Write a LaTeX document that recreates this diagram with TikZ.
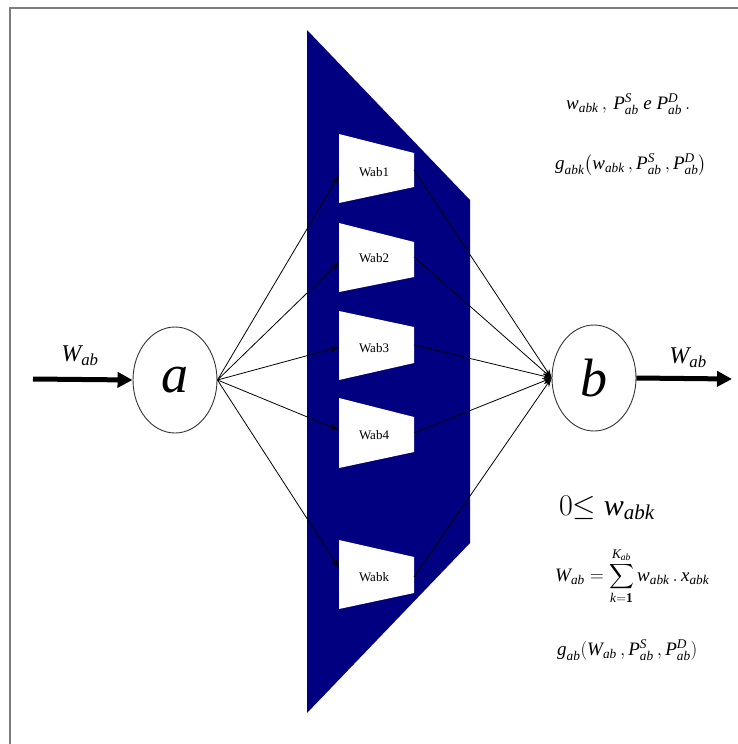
\RequirePackage{fix-cm}
\documentclass[tikz,border=0pt]{standalone}
\usepackage{amsmath}
\usepackage{fontspec}
\setmainfont{Liberation Serif}
\usetikzlibrary{shapes.geometric,arrows.meta}
\definecolor{navyblue}{RGB}{0,0,128}
\definecolor{framegray}{RGB}{125,125,125}
\newcommand{\myit}[1]{\textit{#1}}
\tikzset{
  circ/.style={ellipse, draw=black!80, line width=0.9pt, minimum width=84pt, minimum height=106pt, inner sep=0pt, font=\fontsize{54}{58}\selectfont\itshape},
  boxlabel/.style={font=\fontsize{13}{15}\selectfont, inner sep=0pt},
  thin arrow/.style={line width=0.8pt, -{Stealth[length=9pt,width=6pt]}},
  fat arrow/.style={line width=5pt, -{Triangle[length=15pt,width=15pt]}},
  formula/.style={inner sep=0pt, anchor=west},
}
\begin{document}
\begin{tikzpicture}[x=1pt,y=-1pt]
\useasboundingbox (0,0) rectangle (738,744);
% frame
\draw[framegray, line width=2pt] (10,744) -- (10,8) -- (738,8);
% blue band
\fill[navyblue] (307,30) -- (470,200) -- (470,543) -- (307,713) -- cycle;
% boxes
\fill[white] (339,134) -- (414,153) -- (414,187) -- (339,203) -- cycle;
\fill[white] (339,223) -- (414,242) -- (414,277) -- (339,292) -- cycle;
\fill[white] (339,311) -- (414,327) -- (414,363) -- (339,380) -- cycle;
\fill[white] (339,398) -- (414,417) -- (414,452) -- (339,468) -- cycle;
\fill[white] (339,540) -- (414,557) -- (414,593) -- (339,609) -- cycle;
\node[boxlabel] (l1) at (374,172) {Wab1};
\node[boxlabel] (l2) at (374,258) {Wab2};
\node[boxlabel] (l3) at (374,348) {Wab3};
\node[boxlabel] (l4) at (374,435) {Wab4};
\node[boxlabel] (lk) at (374,577) {Wabk};
\coordinate (in1) at (339,175);
\coordinate (in2) at (339,262);
\coordinate (in3) at (339,347);
\coordinate (in4) at (339,430);
\coordinate (ink) at (339,568);
\coordinate (out1) at (414,170);
\coordinate (out2) at (414,257);
\coordinate (out3) at (414,345);
\coordinate (out4) at (414,433);
\coordinate (outk) at (414,577);
% nodes a and b
\node[circ] (a) at (175,380) {a};
\node[circ] (b) at (594,378) {b};
% connectors
\foreach \i in {1,2,3,4,k}{
  \draw[thin arrow] (a.east) -- (in\i);
  \draw[thin arrow] (out\i) -- (b.west);
}
% input / output
\coordinate (src) at (33,379);
\coordinate (dst) at (732,379);
\draw[fat arrow] (src) -- (a.west);
\draw[fat arrow] (b.east) -- (dst);
\node[inner sep=0pt, font=\fontsize{24}{28}\selectfont] (win) at (80,356) {$\myit{W}_{\myit{ab}}$};
\node[inner sep=0pt, font=\fontsize{24}{28}\selectfont] (wout) at (688,358) {$\myit{W}_{\myit{ab}}$};
% formulas top right
\node[formula, font=\fontsize{19}{22}\selectfont] (f1) at (566,104) {$\myit{w}_{\myit{abk}}\,,\,\myit{P}^{\myit{S}}_{\myit{ab}}\ \myit{e}\ \myit{P}^{\myit{D}}_{\myit{ab}}\,.$};
\node[formula, font=\fontsize{19}{22}\selectfont] (f2) at (555,165) {$\myit{g}_{\myit{abk}}\bigl(\myit{w}_{\myit{abk}}\,,\myit{P}^{\myit{S}}_{\myit{ab}}\,,\myit{P}^{\myit{D}}_{\myit{ab}}\bigr)$};
% formulas bottom right
\node[formula, font=\fontsize{30}{34}\selectfont] (f3) at (559,508) {$0{\leq}\ \myit{w}_{\myit{abk}}$};
\node[formula, font=\fontsize{19}{22}\selectfont] (f4) at (555,576) {$\myit{W}_{\myit{ab}} = \displaystyle\sum_{\myit{k}=\mathbf{1}}^{\myit{K}_{\myit{ab}}\rule[-3pt]{0pt}{3pt}} \myit{w}_{\myit{abk}}\,.\,\myit{x}_{\myit{abk}}$};
\node[formula, font=\fontsize{19}{22}\selectfont] (f5) at (557,650) {$\myit{g}_{\myit{ab}}(\myit{W}_{\myit{ab}}\,,\myit{P}^{\myit{S}}_{\myit{ab}}\,,\myit{P}^{\myit{D}}_{\myit{ab}})$};
\end{tikzpicture}
\end{document}
